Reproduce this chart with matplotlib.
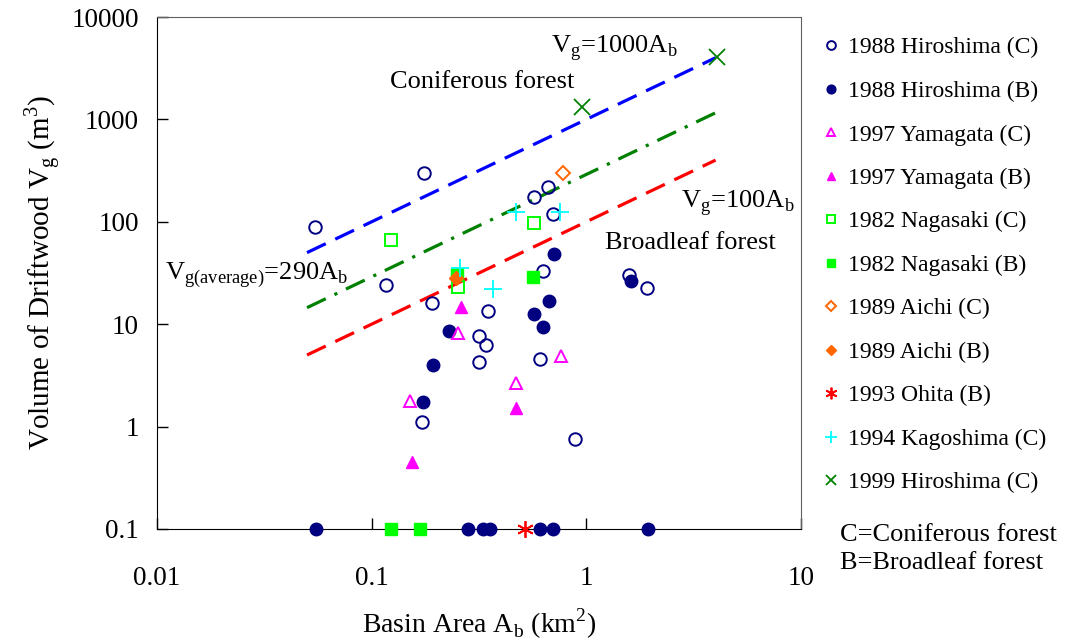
import matplotlib
matplotlib.use('Agg')

import matplotlib.pyplot as plt
import numpy as np

plt.rcParams['font.family'] = ['Liberation Serif', 'DejaVu Serif']
plt.rcParams['mathtext.fontset'] = 'custom'
plt.rcParams['mathtext.rm'] = 'Liberation Serif'

# basin area (km2) and driftwood volume (m3)
hiro88_c_x = [0.0545, 0.117, 0.175, 0.191, 0.171, 0.316, 0.341, 0.316, 0.348,
              0.57, 0.662, 0.70, 0.628, 0.608, 0.885, 1.58, 1.91]
hiro88_c_y = [89, 24, 300, 16, 1.1, 7.7, 6.3, 4.3, 13.5,
              175, 219, 119, 33, 4.6, 0.76, 30, 22.6]
hiro88_b_x = [0.706, 1.61, 0.67, 0.57, 0.628, 0.229, 0.193, 0.173,
              0.055, 0.281, 0.33, 0.356, 0.608, 0.70, 1.94]
hiro88_b_y = [48.5, 26.4, 16.9, 12.6, 9.4, 8.6, 4.0, 1.74,
              0.1, 0.1, 0.1, 0.1, 0.1, 0.1, 0.1]
yama97_c_x = [0.252, 0.762, 0.47, 0.151]
yama97_c_y = [8.2, 4.9, 2.67, 1.78]
yama97_b_x = [0.26, 0.47, 0.154]
yama97_b_y = [14.7, 1.52, 0.45]
naga82_c_x = [0.123, 0.57, 0.252]
naga82_c_y = [66, 97, 23]
naga82_b_x = [0.249, 0.564, 0.123, 0.168]
naga82_b_y = [31, 29, 0.1, 0.1]
aichi89_c_x = [0.778]
aichi89_c_y = [300]
aichi89_b_x = [0.247]
aichi89_b_y = [28.3]
ohita93_b_x = [0.518]
ohita93_b_y = [0.1]
kago94_c_x = [0.258, 0.367, 0.47, 0.754]
kago94_c_y = [35, 22, 125, 125]
hiro99_c_x = [0.953, 4.06]
hiro99_c_y = [1320, 4070]

# fitted relations V = k * A
line_x = [0.05, 4.0]
k_conifer = 1000
k_average = 290
k_broadleaf = 100

fig = plt.figure(figsize=(10.67, 6.44), dpi=100)
ax = fig.add_axes([0.1471, 0.1786, 0.6036, 0.795])

ax.set_xscale('log')
ax.set_yscale('log')
ax.set_xlim(0.01, 10)
ax.set_ylim(0.1, 10000)

lx = np.array(line_x)
ax.plot(lx, k_conifer * lx, color='#0000FF', lw=2.3, dashes=(6.5, 3.3))
ax.plot(lx, k_average * lx, color='#008000', lw=2.3, dashes=(6.5, 3.0, 1.0, 3.0))
ax.plot(lx, k_broadleaf * lx, color='#FF0000', lw=2.3, dashes=(6.5, 3.3))

ms = 9
kw = dict(ls='none', clip_on=False, zorder=3)
ax.plot(hiro88_c_x, hiro88_c_y, marker='o', ms=ms, mfc='none', mec='#000080', mew=1.4,
        label='1988 Hiroshima (C)', **kw)
ax.plot(hiro88_b_x, hiro88_b_y, marker='o', ms=ms, mfc='#000080', mec='#000080',
        label='1988 Hiroshima (B)', **kw)
ax.plot(yama97_c_x, yama97_c_y, marker='^', ms=ms, mfc='none', mec='#FF00FF', mew=1.4,
        label='1997 Yamagata (C)', **kw)
ax.plot(yama97_b_x, yama97_b_y, marker='^', ms=ms, mfc='#FF00FF', mec='#FF00FF',
        label='1997 Yamagata (B)', **kw)
ax.plot(naga82_c_x, naga82_c_y, marker='s', ms=8, mfc='none', mec='#00FF00', mew=1.4,
        label='1982 Nagasaki (C)', **kw)
ax.plot(naga82_b_x, naga82_b_y, marker='s', ms=8, mfc='#00FF00', mec='#00FF00',
        label='1982 Nagasaki (B)', **kw)
ax.plot(aichi89_c_x, aichi89_c_y, marker='D', ms=7, mfc='none', mec='#FF6600', mew=1.4,
        label='1989 Aichi (C)', **kw)
ax.plot(aichi89_b_x, aichi89_b_y, marker='D', ms=7, mfc='#FF6600', mec='#FF6600',
        label='1989 Aichi (B)', **kw)
ax.plot(ohita93_b_x, ohita93_b_y, marker=(6, 2, 0), ms=12, mec='#FF0000', mew=1.3,
        label='1993 Ohita (B)', **kw)
ax.plot(kago94_c_x, kago94_c_y, marker='+', ms=13, mec='#00FFFF', mew=1.3,
        label='1994 Kagoshima (C)', **kw)
ax.plot(hiro99_c_x, hiro99_c_y, marker='x', ms=11, mec='#008000', mew=1.3,
        label='1999 Hiroshima (C)', **kw)

ax.text(1.344, 4980, r'V$_{\mathregular{g}}$=1000A$_{\mathregular{b}}$',
        fontsize=19, ha='center', va='center')
ax.text(0.327, 2320, 'Coniferous forest', fontsize=19, ha='center', va='center')
ax.text(5.08, 153, r'V$_{\mathregular{g}}$=100A$_{\mathregular{b}}$',
        fontsize=19, ha='center', va='center')
ax.text(3.04, 62, 'Broadleaf forest', fontsize=19, ha='center', va='center')
ax.text(0.0109, 30.2, r'V$_{\mathregular{g(average)}}$=290A$_{\mathregular{b}}$',
        fontsize=19, ha='left', va='center')

ax.set_xticks([0.01, 0.1, 1, 10], ['0.01', '0.1', '1', '10'])
ax.set_yticks([0.1, 1, 10, 100, 1000, 10000],
              ['0.1', '1', '10', '100', '1000', '10000'])
ax.minorticks_off()
ax.tick_params(axis='both', direction='in', length=8, width=1, labelsize=19.5)
ax.tick_params(axis='x', pad=27)
ax.tick_params(axis='y', pad=13)
for side in ['top', 'right']:
    ax.spines[side].set_color('#606060')

ax.set_xlabel(r'Basin Area A$_{\mathregular{b}}$ (km$^{\mathregular{2}}$)', fontsize=20, labelpad=11)
ax.set_ylabel(r'Volume of Driftwood V$_{\mathregular{g}}$ (m$^{\mathregular{3}}$)', fontsize=21, labelpad=6)

fig.legend(loc='upper left', bbox_to_anchor=(824 / 1067, 1 - 37 / 644),
           frameon=False, fontsize=17, markerscale=0.7, handlelength=0.6,
           handletextpad=0.4, labelspacing=0.93, borderpad=0, borderaxespad=0)

fig.text(840 / 1067, 1 - 549 / 644, 'C=Coniferous forest\nB=Broadleaf forest',
         fontsize=19, ha='left', va='center', linespacing=1.38)

fig.savefig('out.png', dpi=100)
plt.close(fig)
